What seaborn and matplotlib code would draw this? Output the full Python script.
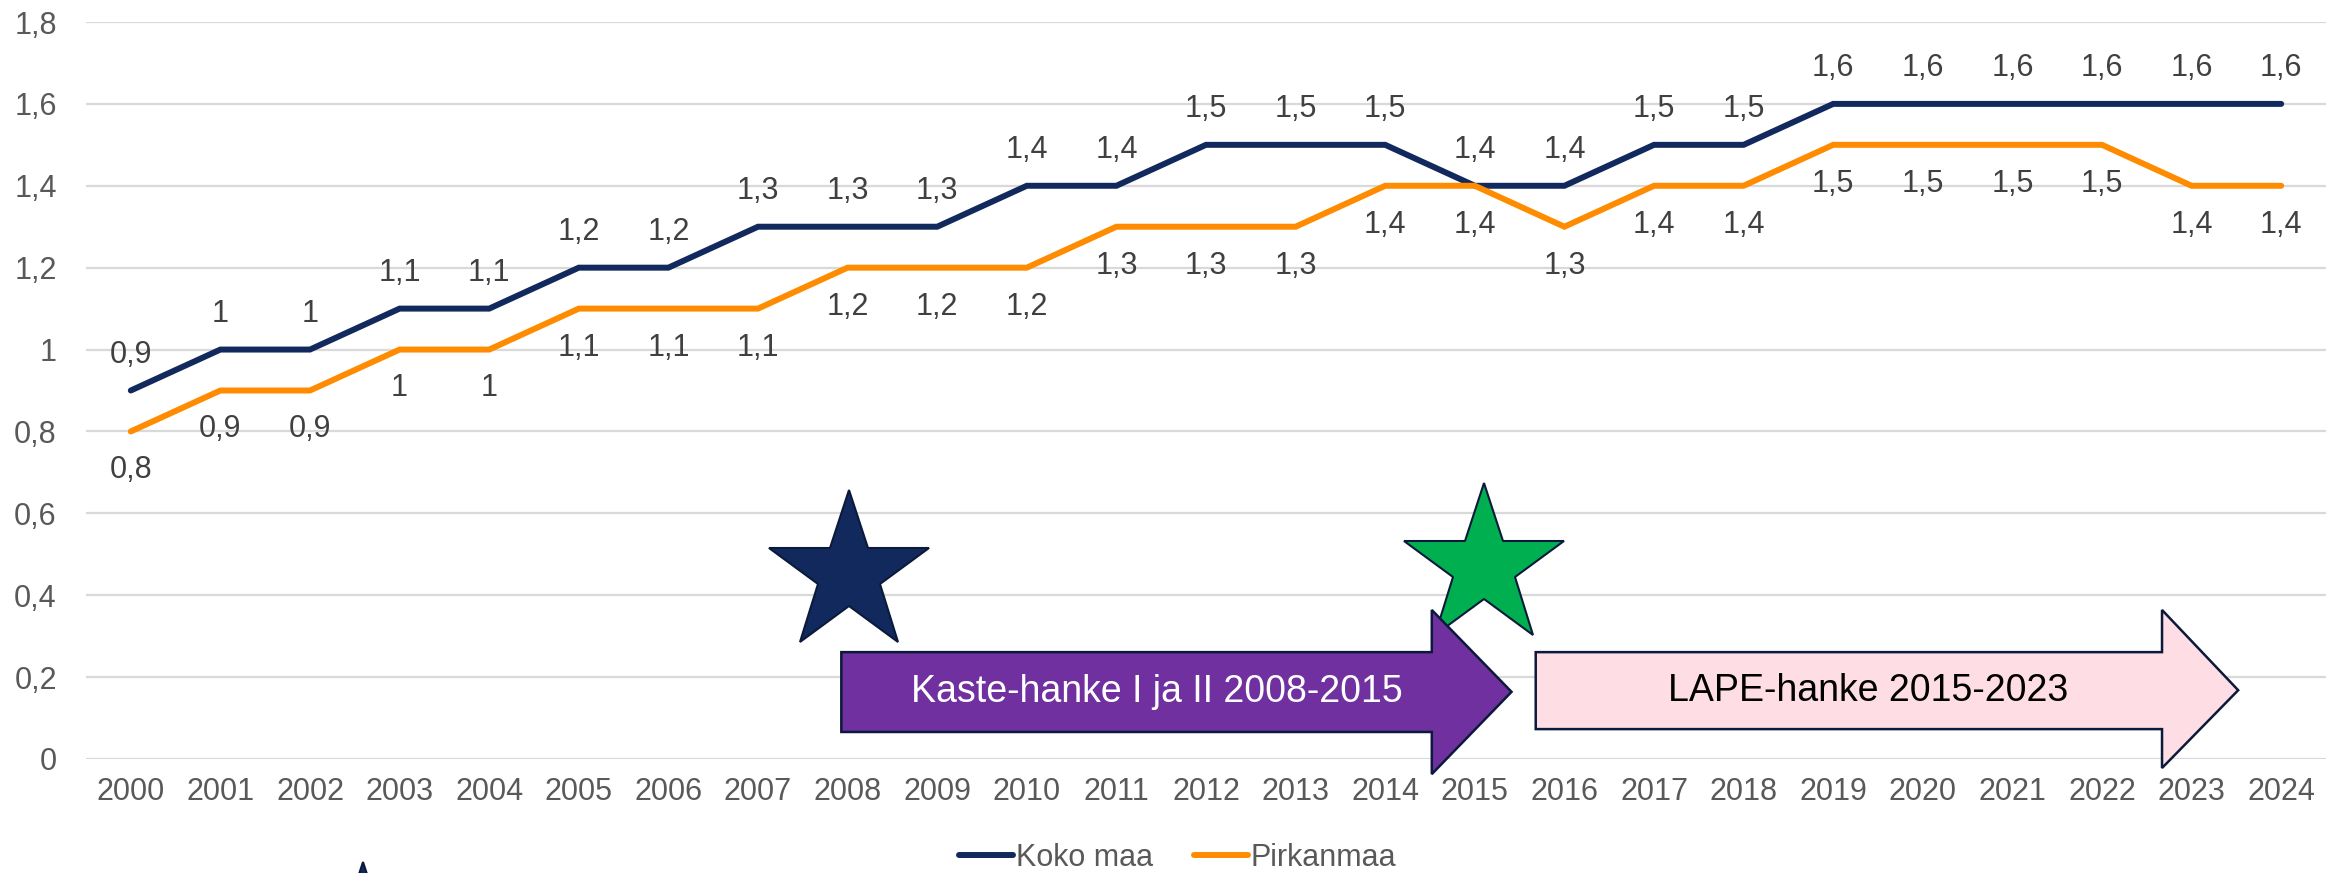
import numpy as np
import pandas as pd
import matplotlib
matplotlib.use("Agg")
import matplotlib.pyplot as plt
import seaborn as sns
from matplotlib.patches import Polygon

# ---- data ----
years = [str(y) for y in range(2000, 2025)]
koko_maa = [0.9, 1.0, 1.0, 1.1, 1.1, 1.2, 1.2, 1.3, 1.3, 1.3, 1.4, 1.4, 1.5, 1.5, 1.5,
            1.4, 1.4, 1.5, 1.5, 1.6, 1.6, 1.6, 1.6, 1.6, 1.6]
pirkanmaa = [0.8, 0.9, 0.9, 1.0, 1.0, 1.1, 1.1, 1.1, 1.2, 1.2, 1.2, 1.3, 1.3, 1.3, 1.4,
             1.4, 1.3, 1.4, 1.4, 1.5, 1.5, 1.5, 1.5, 1.4, 1.4]
series_names = ["Koko maa", "Pirkanmaa"]
yticks = [0, 0.2, 0.4, 0.6, 0.8, 1.0, 1.2, 1.4, 1.6, 1.8]
arrow1_text = "Kaste-hanke I ja II 2008-2015"
arrow2_text = "LAPE-hanke 2015-2023"

NAVY = "#12295E"
ORANGE = "#FF8C00"
GRID = "#D9D9D9"
TXT = "#595959"
LBL = "#404040"

def fmt(v):
    s = f"{v:.1f}".rstrip("0").rstrip(".")
    return s.replace(".", ",")

sns.set_theme(style="white")
plt.rcParams["font.family"] = ["Liberation Sans", "DejaVu Sans"]

fig = plt.figure(figsize=(23.43, 8.73), dpi=100)
ax = fig.add_axes([86/2343, 1-759/873, (2326-86)/2343, (759-22)/873])

idx = np.arange(len(years))
df = pd.DataFrame({
    "x": np.concatenate([idx, idx]),
    "value": koko_maa + pirkanmaa,
    "series": [series_names[0]]*len(years) + [series_names[1]]*len(years),
})
sns.lineplot(data=df, x="x", y="value", hue="series",
             palette={series_names[0]: NAVY, series_names[1]: ORANGE},
             linewidth=4.3, ax=ax, legend=True, zorder=3,
             solid_capstyle="round", solid_joinstyle="miter")

ax.set_xlim(-0.5, len(years)-0.5)
ax.set_ylim(0, 1.8)
ax.set_yticks(yticks)
ax.set_yticklabels([fmt(v) for v in yticks])
ax.set_xticks(idx)
ax.set_xticklabels(years)
ax.tick_params(axis="y", labelsize=22, labelcolor=TXT, pad=21, length=0)
ax.tick_params(axis="x", labelsize=22, labelcolor=TXT, pad=13, length=0)
ax.set_xlabel("")
ax.set_ylabel("")
ax.grid(axis="y", color=GRID, linewidth=1.6)
ax.set_axisbelow(True)
for s in ax.spines.values():
    s.set_visible(False)

# data labels
for i, v in enumerate(koko_maa):
    ax.annotate(fmt(v), (i, v), xytext=(0, 25.5), textcoords="offset points",
                ha="center", va="center", fontsize=22, color=LBL)
for i, v in enumerate(pirkanmaa):
    ax.annotate(fmt(v), (i, v), xytext=(0, -28), textcoords="offset points",
                ha="center", va="center", fontsize=22, color=LBL)

# stars
ax.plot([15.1], [0.469], marker="*", markersize=121, color="#00B050",
        markeredgecolor="#0B1A3A", markeredgewidth=1.5, clip_on=False, zorder=4)
ax.plot([8.02], [0.452], marker="*", markersize=121, color=NAVY,
        markeredgecolor="#0B1A3A", markeredgewidth=1.5, clip_on=False, zorder=6)
ax.plot([2.59], [-0.457], marker="*", markersize=121, color=NAVY,
        markeredgecolor="#0B1A3A", markeredgewidth=1.5, clip_on=False, zorder=6)

def arrow(x0, xb, xt, yb0, yb1, yh0, yh1, yt, fc):
    pts = [(x0, yb0), (xb, yb0), (xb, yh0), (xt, yt), (xb, yh1), (xb, yb1), (x0, yb1)]
    return Polygon(pts, closed=True, facecolor=fc, edgecolor="#0B1A3A",
                   linewidth=1.8, clip_on=False, zorder=5)

ax.add_patch(arrow(7.93, 14.52, 15.41, 0.066, 0.261, -0.037, 0.364, 0.164, "#7030A0"))
ax.add_patch(arrow(15.68, 22.67, 23.52, 0.073, 0.261, -0.022, 0.364, 0.168, "#FFDDE4"))
ax.text(11.45, 0.164, arrow1_text, ha="center", va="center", fontsize=27,
        color="white", zorder=7)
ax.text(19.39, 0.166, arrow2_text, ha="center", va="center", fontsize=27,
        color="black", zorder=7)

# legend
handles, labels = ax.get_legend_handles_labels()
ax.get_legend().remove()
leg = fig.legend(handles, labels, loc="center", bbox_to_anchor=(1178/2343, 1-858/873),
                 ncol=2, frameon=False, fontsize=22, handlelength=1.75,
                 handletextpad=0.1, columnspacing=1.35, labelcolor=TXT)
for h in leg.get_lines():
    h.set_linewidth(4.3)

fig.savefig("out.png", dpi=100, facecolor="white")
